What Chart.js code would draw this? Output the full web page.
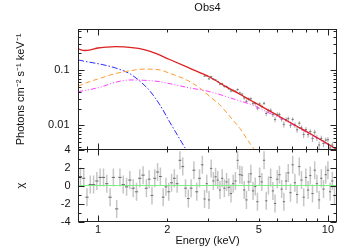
<!DOCTYPE html>
<html lang="en">
<head>
    <meta charset="UTF-8">
    <title>Obs4</title>
    <script src="https://cdn.jsdelivr.net/npm/chart.js@4.4.1/dist/chart.umd.min.js"></script>
    <style>
        body { margin: 0; background: #fff; }
        #wrap { position: relative; width: 340px; height: 249px; }
        canvas { position: absolute; left: 0; }
        #specChart { top: 0; }
        #resChart { top: 139px; }
    </style>
</head>
<body>
<div id="wrap">
    <canvas id="specChart" width="340" height="150"></canvas>
    <canvas id="resChart" width="340" height="110"></canvas>
</div>

<script>
    // axis ranges (keV, photons cm-2 s-1 keV-1, chi)
    const eMin = 0.823, eMax = 10.89;
    const fluxMin = 0.00365, fluxMax = 0.54;
    const chiMin = -4, chiMax = 4;

    // model curves
    const totalE = [0.82, 0.878, 0.93, 1.0, 1.1, 1.19, 1.3, 1.5, 1.7, 2.05, 2.5, 3.07, 3.6, 4.14, 4.58, 5.3, 6.18, 7.2, 8.35, 9.5, 10.9];
    const totalF = [0.240, 0.225, 0.232, 0.250, 0.260, 0.264, 0.262, 0.245, 0.215, 0.155, 0.108, 0.0738, 0.050, 0.0365, 0.0287, 0.0205, 0.0143, 0.0100, 0.0071, 0.0052, 0.0037];

    const powE = [0.82, 1.02, 1.19, 1.38, 1.6, 1.86, 2.055, 2.5, 3.07, 4.14, 4.7, 5.5, 6.18, 7.2, 8.35, 9.5, 10.9];
    const powF = [0.0405, 0.0486, 0.0600, 0.066, 0.065, 0.0615, 0.0565, 0.0475, 0.0405, 0.0275, 0.0233, 0.0170, 0.0137, 0.0097, 0.0069, 0.0051, 0.0036];

    const warmE = [0.82, 0.905, 1.02, 1.19, 1.38, 1.6, 1.86, 2.055, 2.43, 2.78, 3.07, 3.39, 3.75, 4.14, 4.58, 4.8];
    const warmF = [0.051, 0.060, 0.0708, 0.086, 0.097, 0.104, 0.100, 0.087, 0.066, 0.0467, 0.0329, 0.0233, 0.0143, 0.0088, 0.0047, 0.0036];

    const softE = [0.82, 0.905, 1.02, 1.19, 1.38, 1.52, 1.68, 1.86, 2.05, 2.27, 2.41];
    const softF = [0.152, 0.140, 0.128, 0.109, 0.085, 0.063, 0.042, 0.0233, 0.0115, 0.0056, 0.0037];

    // residual bins
    const resE = [0.839, 0.867, 0.896, 0.926, 0.957, 0.989, 1.022, 1.057, 1.092, 1.129, 1.167, 1.206, 1.246, 1.288, 1.332,
        1.376, 1.423, 1.471, 1.520, 1.571, 1.624, 1.670, 1.717, 1.766, 1.816, 1.868, 1.921, 1.975, 2.031, 2.089, 2.148,
        2.209, 2.272, 2.337, 2.403, 2.471, 2.541, 2.613, 2.688, 2.764, 2.843, 2.907, 2.972, 3.038, 3.106, 3.175, 3.246,
        3.318, 3.392, 3.468, 3.545, 3.624, 3.705, 3.788, 3.872, 3.959, 4.047, 4.137, 4.229, 4.324, 4.420, 4.519, 4.619,
        4.722, 4.828, 4.935, 5.045, 5.158, 5.273, 5.390, 5.510, 5.633, 5.759, 5.887, 6.018, 6.152, 6.290, 6.430, 6.573,
        6.720, 6.870, 7.023, 7.179, 7.339, 7.503, 7.670, 7.841, 8.016, 8.195, 8.377, 8.564, 8.755, 8.950, 9.150, 9.354,
        9.562, 9.775, 9.993, 10.216, 10.443, 10.676];
    const resChi = [1.0, 0.8, -1.3, 0.1, 0.1, 0.5, 0.9, 0.9, 0.2, -1.3, 0.9, -2.6, 0.9, 0.1, -0.15, 0.6, -0.3, -0.7, 0.8, 1.15, -0.3,
        0.7, -1.1, 0.8, 1.5, 1.0, -1.3, -0.15, -0.7, 0.3, 0.8, 0.2, 2.8, 2.1, -0.3, -1.45, -0.3, 1.7, -0.7, 0.8, 2.3,
        -1.5, 0.2, -1.6, 1.9, 0.5, 0.96, 0.6, -0.5, 0.8, -0.3, 0.4, -0.2, -0.9, 0.2, 0.5, 2.8, 1.2, 1.15, -0.5, -1.6,
        0.4, 1.3, -0.6, -0.1, -1.8, 1.0, 0.4, 2.8, -1.7, 0.0, 0.9, -0.6, -2.0, 0.7, 1.2, -0.4, -1.8, 0.5, 1.4, -0.8,
        2.3, 0.3, -1.0, 2.1, 0.6, -1.3, 0.9, -0.5, 1.1, -0.9, 1.7, 0.2, -1.6, 0.8, -0.4, 1.2, 1.7, -0.7, 0.5, -1.1];

    // observed spectrum (visible above ~2.9 keV)
    const obsE = resE.slice(41);
    const obsFlux = [0.0777, 0.0785, 0.0693, 0.0756, 0.0680, 0.0660, 0.0617, 0.0556, 0.0563, 0.0506,
        0.0498, 0.0459, 0.0418, 0.0423, 0.0409, 0.0442, 0.0385, 0.0366, 0.0312, 0.0272,
        0.0299, 0.0302, 0.0250, 0.0247, 0.0204, 0.0243, 0.0220, 0.0250, 0.0164, 0.0183,
        0.0187, 0.0156, 0.0127, 0.0158, 0.0157, 0.0129, 0.0104, 0.0127, 0.0132, 0.0100,
        0.0128, 0.0101, 0.0083, 0.0109, 0.0090, 0.0068, 0.0084, 0.0068, 0.0077, 0.0058,
        0.0075, 0.0059, 0.0044, 0.0058, 0.0047, 0.0054, 0.0055, 0.0039, 0.0044, 0.0033];
    const obsErr = [0.0029, 0.0029, 0.0029, 0.0028, 0.0028, 0.0028, 0.0027, 0.0027, 0.0027, 0.0026,
        0.0026, 0.0025, 0.0025, 0.0024, 0.0024, 0.0023, 0.0023, 0.0022, 0.0022, 0.0021,
        0.0021, 0.0020, 0.0019, 0.0019, 0.0018, 0.0018, 0.0017, 0.0017, 0.0016, 0.0016,
        0.0015, 0.0015, 0.0014, 0.0014, 0.0013, 0.0013, 0.0013, 0.0012, 0.0012, 0.0011,
        0.0011, 0.0011, 0.0010, 0.0010, 0.00095, 0.00092, 0.00089, 0.00085, 0.00082, 0.00079,
        0.00077, 0.00073, 0.00070, 0.00069, 0.00066, 0.00062, 0.00061, 0.00059, 0.00057, 0.00055];

    // ticks
    const xMajor = [1, 10];
    const xMinor = [0.9, 2, 3, 4, 5, 6, 7, 8, 9];
    const xLabels = [1, 2, 5, 10];
    const fluxMajor = [0.01, 0.1];
    const fluxMinor = [0.004, 0.005, 0.006, 0.007, 0.008, 0.009, 0.02, 0.03, 0.04, 0.05, 0.06, 0.07, 0.08, 0.09, 0.2, 0.3, 0.4, 0.5];
    const chiMajor = [-4, -2, 0, 2, 4];
    const chiMinor = [-3, -1, 1, 3];

    const FONT = '"Liberation Sans", Arial, sans-serif';
    Chart.defaults.font.family = FONT;
    Chart.defaults.font.size = 11;
    Chart.defaults.color = '#111';

    const pts = (xs, ys) => xs.map((x, i) => ({x, y: ys[i]}));

    // bin edges halfway (in log) between neighbouring centres
    const edges = (E) => E.map((e, i) => {
        const prev = i > 0 ? E[i - 1] : e * e / E[i + 1];
        const next = i < E.length - 1 ? E[i + 1] : e * e / E[i - 1];
        return [Math.sqrt(prev * e), Math.sqrt(e * next)];
    });
    const vBars = (E, lo, hi) => E.flatMap((e, i) => [{x: e, y: lo[i]}, {x: e, y: hi[i]}, {x: e, y: null}]);
    const hBars = (E, y) => edges(E).flatMap(([a, b], i) => [{x: a, y: y[i]}, {x: b, y: y[i]}, {x: b, y: null}]);

    // frame round the plot area with inward ticks on all four sides
    const frameTicks = {
        id: 'frameTicks',
        afterDatasetsDraw(chart, args, opts) {
            const {ctx, chartArea: a, scales: {x, y}} = chart;
            ctx.save();
            ctx.strokeStyle = '#222';
            ctx.lineWidth = 1;
            ctx.beginPath();
            const xt = (v, len) => {
                const p = Math.round(x.getPixelForValue(v)) + 0.5;
                ctx.moveTo(p, a.top); ctx.lineTo(p, a.top + len);
                ctx.moveTo(p, a.bottom); ctx.lineTo(p, a.bottom - len);
            };
            const yt = (v, len) => {
                const p = Math.round(y.getPixelForValue(v)) + 0.5;
                ctx.moveTo(a.left, p); ctx.lineTo(a.left + len, p);
                ctx.moveTo(a.right, p); ctx.lineTo(a.right - len, p);
            };
            opts.xMajor.forEach(v => xt(v, 6));
            opts.xMinor.forEach(v => xt(v, 3));
            opts.yMajor.forEach(v => yt(v, 6));
            opts.yMinor.forEach(v => yt(v, 3));
            ctx.stroke();
            ctx.strokeRect(a.left, a.top, a.right - a.left, a.bottom - a.top);
            ctx.restore();
        }
    };

    const curve = (E, F, color, dash, width) => ({
        data: pts(E, F), borderColor: color, borderWidth: width || 1, borderDash: dash || [],
        pointRadius: 0, fill: false, cubicInterpolationMode: 'monotone'
    });
    const bars = (data, color, width) => ({
        data, borderColor: color, borderWidth: width, pointRadius: 0, fill: false, spanGaps: false, tension: 0
    });

    // fixed axis boxes, no extra room for overhanging labels
    const fixWidth = s => { s.width = 78.5; s.paddingTop = 0; s.paddingBottom = 0; };
    const fixHeight = s => { s.height = 27.5; s.paddingLeft = 0; s.paddingRight = 0; };

    const common = {
        responsive: false,
        animation: false,
        devicePixelRatio: 1,
        events: [],
    };

    new Chart(document.getElementById('specChart'), {
        type: 'line',
        data: {
            datasets: [
                curve(totalE, totalF, '#dd2020', [], 1.3),
                curve(powE, powF, '#ff3cff', [5, 2, 1, 2, 1, 2]),
                curve(warmE, warmF, '#ff9a30', [5, 3]),
                curve(softE, softF, '#2c2cff', [6, 2, 1.5, 2]),
                bars(hBars(obsE, obsFlux), '#777', 1),
                bars(vBars(obsE, obsFlux.map((f, i) => f - obsErr[i]), obsFlux.map((f, i) => f + obsErr[i])), '#aaa', 1)
            ]
        },
        options: {
            ...common,
            layout: {padding: {left: 0, right: 3.5, top: 0, bottom: 0.5}},
            plugins: {
                legend: {display: false},
                tooltip: {enabled: false},
                title: {
                    display: true, text: 'Obs4', fullSize: false, color: '#111',
                    font: {size: 11, weight: 'normal'}, padding: {top: 1.5, bottom: 14.8}
                },
                frameTicks: {xMajor, xMinor, yMajor: fluxMajor, yMinor: fluxMinor}
            },
            scales: {
                x: {type: 'logarithmic', min: eMin, max: eMax, display: false},
                y: {
                    type: 'logarithmic', min: fluxMin, max: fluxMax,
                    grid: {display: false, drawTicks: false}, border: {display: false},
                    afterBuildTicks: s => { s.ticks = fluxMajor.map(v => ({value: v})); },
                    afterFit: fixWidth,
                    ticks: {padding: 9, autoSkip: false, callback: v => String(v)},
                    title: {display: true, text: 'Photons cm⁻² s⁻¹ keV⁻¹', padding: {top: 14}}
                }
            }
        },
        plugins: [frameTicks]
    });

    new Chart(document.getElementById('resChart'), {
        type: 'line',
        data: {
            datasets: [
                bars([{x: eMin, y: 0}, {x: eMax, y: 0}], '#80ee80', 1),
                bars(hBars(resE, resChi), '#6a6a6a', 1),
                bars(vBars(resE, resChi.map(c => c - 1), resChi.map(c => c + 1)), '#c6c6c6', 1.5)
            ]
        },
        options: {
            ...common,
            layout: {padding: {left: 0, right: 3.5, top: 10.5, bottom: 0}},
            plugins: {
                legend: {display: false},
                tooltip: {enabled: false},
                frameTicks: {xMajor, xMinor, yMajor: chiMajor, yMinor: chiMinor}
            },
            scales: {
                x: {
                    type: 'logarithmic', min: eMin, max: eMax,
                    grid: {display: false, drawTicks: false}, border: {display: false},
                    afterBuildTicks: s => { s.ticks = xLabels.map(v => ({value: v})); },
                    afterFit: fixHeight,
                    ticks: {padding: 2, maxRotation: 0, autoSkip: false, callback: v => String(v)},
                    title: {display: true, text: 'Energy (keV)', padding: {top: 0, bottom: 1}}
                },
                y: {
                    min: chiMin, max: chiMax,
                    grid: {display: false, drawTicks: false}, border: {display: false},
                    afterBuildTicks: s => { s.ticks = chiMajor.map(v => ({value: v})); },
                    afterFit: fixWidth,
                    ticks: {padding: 8, autoSkip: false, callback: v => String(v)},
                    title: {display: true, text: 'χ', padding: {top: 14}}
                }
            }
        },
        plugins: [frameTicks]
    });
</script>
</body>
</html>
